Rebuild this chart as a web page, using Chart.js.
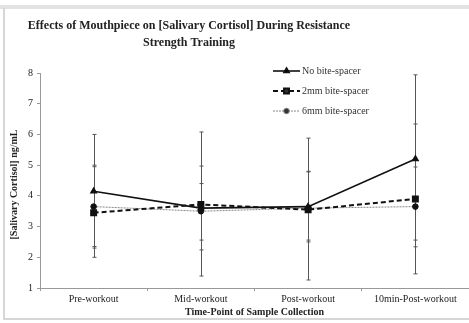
<!DOCTYPE html>
<html>
<head>
<meta charset="utf-8">
<script src="https://cdn.jsdelivr.net/npm/chart.js@4/dist/chart.umd.min.js"></script>
<style>
  html, body { margin: 0; padding: 0; background: #ffffff; }
  #wrap { width: 469px; height: 323px; position: relative; }
</style>
</head>
<body>
<div id="wrap"><canvas id="chart" width="469" height="323"></canvas></div>
<script>
const timePoints = ["Pre-workout", "Mid-workout", "Post-workout", "10min-Post-workout"];
const seriesNames = ["No bite-spacer", "2mm bite-spacer", "6mm bite-spacer"];

const noSpacer = [4.15, 3.6, 3.65, 5.2];
const noSpacerUpper = [6.0, 4.97, 4.78, 7.94];
const noSpacerLower = [2.35, 2.24, 2.56, 2.56];

const spacer2mm = [3.45, 3.72, 3.55, 3.9];
const spacer2mmUpper = [4.95, 6.08, 5.88, 6.34];
const spacer2mmLower = [2.0, 1.39, 1.26, 1.46];

const spacer6mm = [3.65, 3.5, 3.6, 3.65];
const spacer6mmUpper = [5.0, 4.4, 4.8, 4.94];
const spacer6mmLower = [2.3, 2.56, 2.5, 2.34];

const yTicks = [1, 2, 3, 4, 5, 6, 7, 8];

const chartTitle = ["Effects of Mouthpiece on [Salivary Cortisol] During Resistance", "Strength Training"];
const xTitle = "Time-Point of Sample Collection";
const yTitle = "[Salivary Cortisol] ng/mL";

const serif = "'Liberation Serif', 'Times New Roman', serif";
const ink = "#222222";

const frame = {
    id: "frame",
    beforeDraw: (chart) => {
        const { ctx, width, height } = chart;
        ctx.save();
        ctx.fillStyle = "#ffffff";
        ctx.fillRect(0, 0, width, height);
        ctx.fillStyle = "#e2e2e2";
        ctx.fillRect(0, 5, width, 4);
        ctx.fillStyle = "#d6d6d6";
        ctx.fillRect(3, 8, 2, 312);
        ctx.fillRect(3, 318, width - 3, 2);
        ctx.restore();
    },
};

const errorBars = {
    id: "errorBars",
    beforeDatasetsDraw: (chart) => {
        const { ctx } = chart;
        const x = chart.scales.x;
        const y = chart.scales.y;
        ctx.save();
        ctx.strokeStyle = "#555555";
        ctx.lineWidth = 1;
        chart.data.datasets.forEach((ds) => {
            ds.upper.forEach((hi, i) => {
                const px = Math.round(x.getPixelForValue(i)) + 0.5;
                const top = y.getPixelForValue(hi);
                const bot = y.getPixelForValue(ds.lower[i]);
                ctx.beginPath();
                ctx.moveTo(px, top);
                ctx.lineTo(px, bot);
                ctx.moveTo(px - 2, top);
                ctx.lineTo(px + 2, top);
                ctx.moveTo(px - 2, bot);
                ctx.lineTo(px + 2, bot);
                ctx.stroke();
            });
        });
        ctx.restore();
    },
};

const texts = {
    id: "texts",
    afterDraw: (chart) => {
        const { ctx, chartArea } = chart;
        ctx.save();
        ctx.fillStyle = ink;
        ctx.textAlign = "center";
        ctx.textBaseline = "middle";
        ctx.font = "bold 12px " + serif;
        ctx.fillText(chartTitle[0], 189, 26);
        ctx.fillText(chartTitle[1], 189, 43);

        ctx.font = "bold 10px " + serif;
        ctx.fillText(xTitle, (chartArea.left + chartArea.right) / 2, 312);

        ctx.translate(14, (chartArea.top + chartArea.bottom) / 2 + 4);
        ctx.rotate(-Math.PI / 2);
        ctx.fillText(yTitle, 0, 0);
        ctx.restore();

        // legend
        ctx.save();
        ctx.font = "10px " + serif;
        ctx.textAlign = "left";
        ctx.textBaseline = "middle";
        chart.data.datasets.forEach((ds, i) => {
            const ly = 71 + i * 20;
            ctx.strokeStyle = ds.borderColor;
            ctx.lineWidth = ds.borderWidth;
            ctx.setLineDash(ds.borderDash || []);
            ctx.beginPath();
            ctx.moveTo(273, ly);
            ctx.lineTo(300, ly);
            ctx.stroke();
            ctx.setLineDash([]);
            Chart.helpers.drawPoint(ctx, {
                pointStyle: ds.pointStyle,
                radius: ds.pointRadius,
                borderWidth: 1,
            }, 286.5, ly);
            ctx.fillStyle = "#333333";
            ctx.fillText(ds.label, 302, ly);
        });
        ctx.restore();
    },
};

const chartConfig = {
    type: "line",
    data: {
        labels: timePoints,
        datasets: [
            {
                label: seriesNames[0],
                data: noSpacer,
                upper: noSpacerUpper,
                lower: noSpacerLower,
                borderColor: "#111111",
                backgroundColor: "#111111",
                borderWidth: 1.6,
                pointStyle: "triangle",
                pointRadius: 3,
                pointBorderColor: "#111111",
                pointBackgroundColor: "#111111",
                tension: 0,
            },
            {
                label: seriesNames[1],
                data: spacer2mm,
                upper: spacer2mmUpper,
                lower: spacer2mmLower,
                borderColor: "#111111",
                backgroundColor: "#111111",
                borderWidth: 2,
                borderDash: [5, 3],
                pointStyle: "rect",
                pointRadius: 3.5,
                pointBorderColor: "#111111",
                pointBackgroundColor: "#111111",
                tension: 0,
            },
            {
                label: seriesNames[2],
                data: spacer6mm,
                upper: spacer6mmUpper,
                lower: spacer6mmLower,
                borderColor: "#888888",
                backgroundColor: "#111111",
                borderWidth: 1,
                borderDash: [2, 1],
                pointStyle: "circle",
                pointRadius: 2.8,
                pointBorderColor: "#111111",
                pointBackgroundColor: "#111111",
                tension: 0,
            },
        ],
    },
    options: {
        responsive: false,
        maintainAspectRatio: false,
        animation: false,
        layout: { autoPadding: false, padding: { top: 73, right: 0, left: 0, bottom: 0 } },
        plugins: {
            legend: { display: false },
            tooltip: { enabled: false },
            title: { display: false },
        },
        scales: {
            x: {
                offset: true,
                afterFit: (scale) => {
                    scale.height = 35;
                    scale.paddingLeft = 0;
                    scale.paddingRight = 0;
                },
                grid: {
                    display: true,
                    offset: true,
                    drawOnChartArea: false,
                    drawTicks: true,
                    tickLength: 3,
                    color: "#999999",
                },
                border: { display: true, color: "#999999", width: 1 },
                ticks: {
                    color: ink,
                    padding: 2,
                    maxRotation: 0,
                    autoSkip: false,
                    font: { family: serif, size: 10 },
                },
            },
            y: {
                min: 1,
                max: 8,
                afterFit: (scale) => {
                    scale.width = 40;
                    scale.paddingTop = 0;
                    scale.paddingBottom = 0;
                },
                afterBuildTicks: (scale) => { scale.ticks = yTicks.map((v) => ({ value: v })); },
                grid: {
                    display: true,
                    drawOnChartArea: false,
                    drawTicks: true,
                    tickLength: 3,
                    color: "#999999",
                },
                border: { display: true, color: "#999999", width: 1 },
                ticks: {
                    color: ink,
                    padding: 4,
                    font: { family: serif, size: 10 },
                },
            },
        },
    },
    plugins: [frame, errorBars, texts],
};

new Chart(document.getElementById("chart").getContext("2d"), chartConfig);
</script>
</body>
</html>
